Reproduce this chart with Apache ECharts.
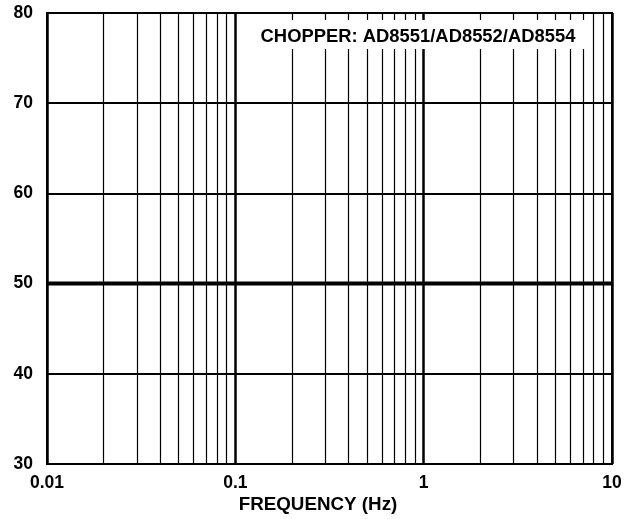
<!DOCTYPE html>
<html>
<head>
<meta charset="utf-8">
<script src="https://cdn.jsdelivr.net/npm/echarts@6/dist/echarts.min.js"></script>
<style>html,body{margin:0;padding:0;background:#fff}#c{width:629px;height:519px}</style>
</head>
<body>
<div id="c"></div>
<script>
// Data
const xRange = [0.01, 10];
const yRange = [30, 80];
const yInterval = 10;
const minorFreqs = [0.02,0.03,0.04,0.05,0.06,0.07,0.08,0.09,0.2,0.3,0.4,0.5,0.6,0.7,0.8,0.9,2,3,4,5,6,7,8,9];
const seriesFreq = [0.01, 10];
const seriesValues = [50, 50];
const chartLabel = 'CHOPPER: AD8551/AD8552/AD8554';
const xTitle = 'FREQUENCY (Hz)';

const font = '"Liberation Sans", Arial, sans-serif';
const chart = echarts.init(document.getElementById('c'), null, {renderer: 'canvas'});
chart.setOption({
  animation: false,
  backgroundColor: '#fff',
  grid: {left: 47, right: 17, top: 13, bottom: 55, show: true, borderColor: '#000', borderWidth: 2, backgroundColor: 'transparent'},
  xAxis: {
    type: 'log', logBase: 10, min: xRange[0], max: xRange[1],
    axisLine: {show: true, lineStyle: {color: '#000', width: 2}},
    axisTick: {show: false},
    splitLine: {show: true, lineStyle: {color: '#000', width: 2.5}},
    axisLabel: {color: '#000', fontFamily: font, fontWeight: 'bold', fontSize: 17.5, margin: 10,
      formatter: v => String(v)}
  },
  yAxis: {
    type: 'value', min: yRange[0], max: yRange[1], interval: yInterval,
    axisLine: {show: true, lineStyle: {color: '#000', width: 2}},
    axisTick: {show: false},
    splitLine: {show: true, lineStyle: {color: '#000', width: 2}},
    axisLabel: {color: '#000', fontFamily: font, fontWeight: 'bold', fontSize: 17.5, margin: 14}
  },
  series: [{
    type: 'line',
    data: seriesFreq.map((f, i) => [f, seriesValues[i]]),
    symbol: 'none',
    lineStyle: {color: '#000', width: 4},
    z: 5,
    markLine: {
      silent: true, symbol: 'none', label: {show: false}, animation: false,
      lineStyle: {color: '#000', width: 1.2, type: 'solid'},
      data: minorFreqs.map(f => ({xAxis: f}))
    }
  }],
  graphic: [
    {type: 'rect', z: 100, shape: {x: 250, y: 20, width: 338, height: 29}, style: {fill: '#fff'}},
    {type: 'text', z: 101, x: 418, y: 37, style: {text: chartLabel, fill: '#000', font: 'bold 18.4px ' + font, textAlign: 'center', textVerticalAlign: 'middle'}},
    {type: 'text', z: 101, x: 318, y: 505, style: {text: xTitle, fill: '#000', font: 'bold 18.8px ' + font, textAlign: 'center', textVerticalAlign: 'middle'}}
  ]
});
</script>
</body>
</html>
